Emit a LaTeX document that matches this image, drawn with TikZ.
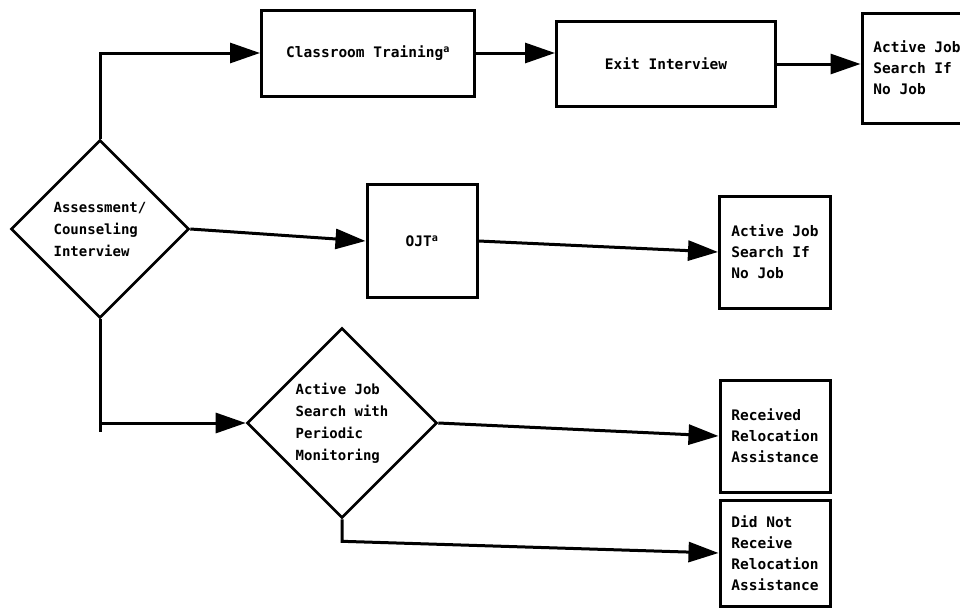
\documentclass[tikz,border=0pt]{standalone}
\usepackage{fontspec}
\newfontfamily\tw{DejaVu Sans Mono Bold}
\usetikzlibrary{shapes.geometric,arrows.meta,calc}
\tikzset{
  box/.style={draw, line width=3pt, rectangle, inner sep=0pt, align=left,
    font=\tw\fontsize{14.5}{21}\selectfont},
  dia/.style={draw, line width=2.6pt, diamond, aspect=1, inner sep=0pt, align=left,
    font=\tw\fontsize{14}{22}\selectfont},
  conn/.style={line width=3pt},
  arr/.style={line width=3pt, -{Triangle[length=30pt,width=20pt]}}
}
\begin{document}
\begin{tikzpicture}[x=1pt,y=-1pt]
\useasboundingbox[fill=white] (0,0) rectangle (960,613);
\node[box, minimum width=213pt, minimum height=86pt] (class) at (368,53) {Classroom Training\textsuperscript{a}};
\node[box, minimum width=219pt, minimum height=85pt] (exit) at (666,64) {Exit Interview};
\node[box, minimum width=110pt, minimum height=110pt] (act1) at (917,68) {Active Job\\Search If\\No Job};
\node[dia, minimum width=178pt, minimum height=178pt] (d1) at (100,229) {Assessment/\\Counseling\\Interview};
\node[box, minimum width=110pt, minimum height=113pt] (ojt) at (422,241) {OJT\textsuperscript{a}};
\node[box, minimum width=111pt, minimum height=112pt] (act2) at (775,252) {Active Job\\Search If\\No Job};
\node[dia, minimum width=190pt, minimum height=190pt] (d2) at (342,423) {Active Job\\Search with\\Periodic\\Monitoring};
\node[box, minimum width=110pt, minimum height=112pt] (rec) at (775,436) {Received\\Relocation\\Assistance};
\node[box, minimum width=110pt, minimum height=106pt] (dnr) at (775,553) {Did Not\\Receive\\Relocation\\Assistance};
\coordinate (bend) at (d1.south |- d2.west);
\coordinate (bend2) at ($(d2.south)+(0,22)$);
\draw[arr] (d1.north) |- (class.west);
\draw[arr] (class.east) -- (class.east -| exit.west);
\draw[arr] (exit.east) -- (exit.east -| act1.west);
\draw[arr] (d1.east) -- (ojt.west);
\draw[arr] (ojt.east) -- (act2.west);
\draw[arr] (d1.south) |- (d2.west);
\draw[conn] (bend) -- ++(0,9);
\draw[arr] (d2.east) -- (rec.west);
\draw[arr] (d2.south) -- (bend2) -- (dnr.west);
\end{tikzpicture}
\end{document}
